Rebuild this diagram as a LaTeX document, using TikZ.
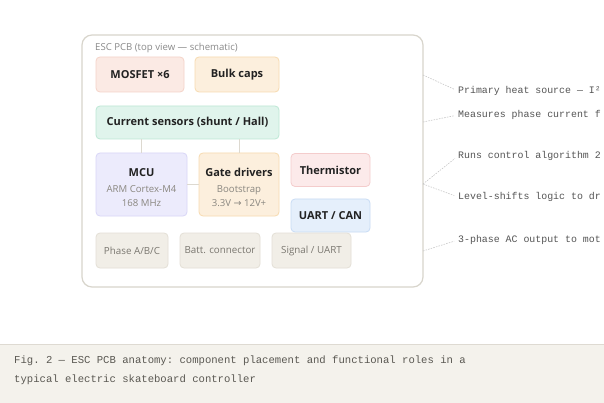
\documentclass[tikz,border=0pt]{standalone}
\usepackage{fontspec}
\setmainfont{Open Sans}
\setmonofont{Liberation Mono}
\newfontfamily\symfont{DejaVu Sans}
\definecolor{pcbline}{HTML}{D8D5CC}
\definecolor{titlegray}{HTML}{8A8A8A}
\definecolor{mosfill}{HTML}{FBEAE4}\definecolor{mosline}{HTML}{F5D3C8}
\definecolor{capfill}{HTML}{FCEFDD}\definecolor{capline}{HTML}{F7DBB0}
\definecolor{senfill}{HTML}{E0F4EC}\definecolor{senline}{HTML}{BDE8D5}
\definecolor{mcufill}{HTML}{ECEBFC}\definecolor{mculine}{HTML}{D9D6F7}
\definecolor{thfill}{HTML}{FCEAEA}\definecolor{thline}{HTML}{F4CCCC}
\definecolor{uafill}{HTML}{E5EFFB}\definecolor{ualine}{HTML}{C8DCF5}
\definecolor{gyfill}{HTML}{F1EEE7}\definecolor{gyline}{HTML}{E3DFD6}
\definecolor{gytext}{HTML}{7A7770}
\definecolor{subtext}{HTML}{8A8780}
\definecolor{conn}{HTML}{DDD9D0}
\definecolor{dashc}{HTML}{C8C8C8}
\definecolor{monotext}{HTML}{555555}
\definecolor{capbg}{HTML}{F4F2EC}
\definecolor{capborder}{HTML}{DEDAD2}
\definecolor{captext}{HTML}{5A5852}
\definecolor{darktext}{HTML}{222222}
\newcommand\subtxt[1]{{\fontsize{9.6}{11}\selectfont\mdseries\color{subtext}#1}}
\begin{document}
\begin{tikzpicture}[x=1pt,y=-1pt,
  box/.style={draw, rounded corners=4pt, line width=0.8pt, inner sep=0pt, align=center, text=darktext,
    font=\fontsize{11}{12.5}\selectfont\bfseries},
  mosbox/.style={box, fill=mosfill, draw=mosline},
  capbox/.style={box, fill=capfill, draw=capline},
  senbox/.style={box, fill=senfill, draw=senline},
  mcubox/.style={box, fill=mcufill, draw=mculine},
  thbox/.style={box, fill=thfill, draw=thline},
  uabox/.style={box, fill=uafill, draw=ualine},
  gybox/.style={box, fill=gyfill, draw=gyline, text=gytext, font=\fontsize{9.8}{11}\selectfont},
  connline/.style={draw=conn, line width=0.8pt},
  dashline/.style={draw=dashc, line width=0.6pt, dash pattern=on 1.5pt off 1.2pt},
  note/.style={anchor=west, inner sep=0pt, text=monotext, font=\ttfamily\fontsize{9.9}{12}\selectfont},
]
\useasboundingbox (0,0) rectangle (604,403);
\clip (0,0) rectangle (604,403);
\fill[white] (0,0) rectangle (604,403);

% PCB outline
\draw[draw=pcbline, line width=1.2pt, rounded corners=10pt, fill=white] (82,35) rectangle (423,287);
\node[anchor=west, inner sep=0pt, text=titlegray, font=\fontsize{9.6}{11}\selectfont] (title) at (95,48) {ESC PCB (top view — schematic)};

% components
\node[mosbox, minimum width=88pt, minimum height=35pt] (mos) at (140,74.5) {MOSFET ×6};
\node[capbox, minimum width=84pt, minimum height=35pt] (caps) at (237,74.5) {Bulk caps};
\node[senbox, minimum width=183pt, minimum height=33pt] (sens) at (187.5,122.5) {Current sensors (shunt / Hall)};
\node[mcubox, minimum width=91pt, minimum height=63pt] (mcu) at (141.5,184.5) {\rule{0pt}{15pt}MCU\\[3.5pt]\subtxt{ARM Cortex-M4}\\[1.5pt]\subtxt{168 MHz}};
\node[capbox, minimum width=80pt, minimum height=63pt] (gate) at (239,184.5) {\rule{0pt}{15pt}Gate drivers\\[3.5pt]\subtxt{Bootstrap}\\[1.5pt]\subtxt{3.3V {\symfont →} 12V+}};
\node[thbox, minimum width=79pt, minimum height=33pt] (therm) at (330.5,170) {Thermistor};
\node[uabox, minimum width=79pt, minimum height=33pt] (uart) at (330.5,215.5) {UART / CAN};
\node[gybox, minimum width=72pt, minimum height=35pt] (phase) at (132,250.5) {Phase A/B/C};
\node[gybox, minimum width=80pt, minimum height=35pt] (batt) at (220,250.5) {Batt. connector};
\node[gybox, minimum width=79pt, minimum height=35pt] (sig) at (311.5,250.5) {Signal / UART};

% internal connectors
\draw[connline] (mcu.north) -- (mcu.north |- sens.south);
\draw[connline] (gate.north) -- (gate.north |- sens.south);
\draw[connline] (mcu.east) -- (gate.west);

% notes (cut at the picture's right edge, as in the reference)
\node[note] (n1) at (458,91) {Primary heat source — I²};
\node[note] (n2) at (458,115) {Measures phase current f};
\node[note] (n3) at (458,156) {Runs control algorithm 2};
\node[note] (n4) at (458,197) {Level-shifts logic to dr};
\node[note] (n5) at (458,240) {3-phase AC output to mot};

\coordinate (c1) at (423,75);
\coordinate (c2) at (423,122);
\coordinate (c3) at (423,184);
\coordinate (c5) at (423,251);
\draw[dashline, shorten >=4pt] (c1) -- (n1.west);
\draw[dashline, shorten >=4pt] (c2) -- (n2.west);
\draw[dashline, shorten >=4pt] (c3) -- (n3.west);
\draw[dashline, shorten >=4pt] (c3) -- (n4.west);
\draw[dashline, shorten >=4pt] (c5) -- (n5.west);

% caption
\fill[capbg] (0,344) rectangle (604,403);
\draw[capborder, line width=1pt] (0,344) -- (604,344);
\node[anchor=north west, inner sep=0pt, align=left, text=captext, font=\ttfamily\fontsize{10.6}{18.5}\selectfont] (cap) at (14,356)
  {Fig. 2 — ESC PCB anatomy: component placement and functional roles in a\\typical electric skateboard controller};
\end{tikzpicture}
\end{document}
